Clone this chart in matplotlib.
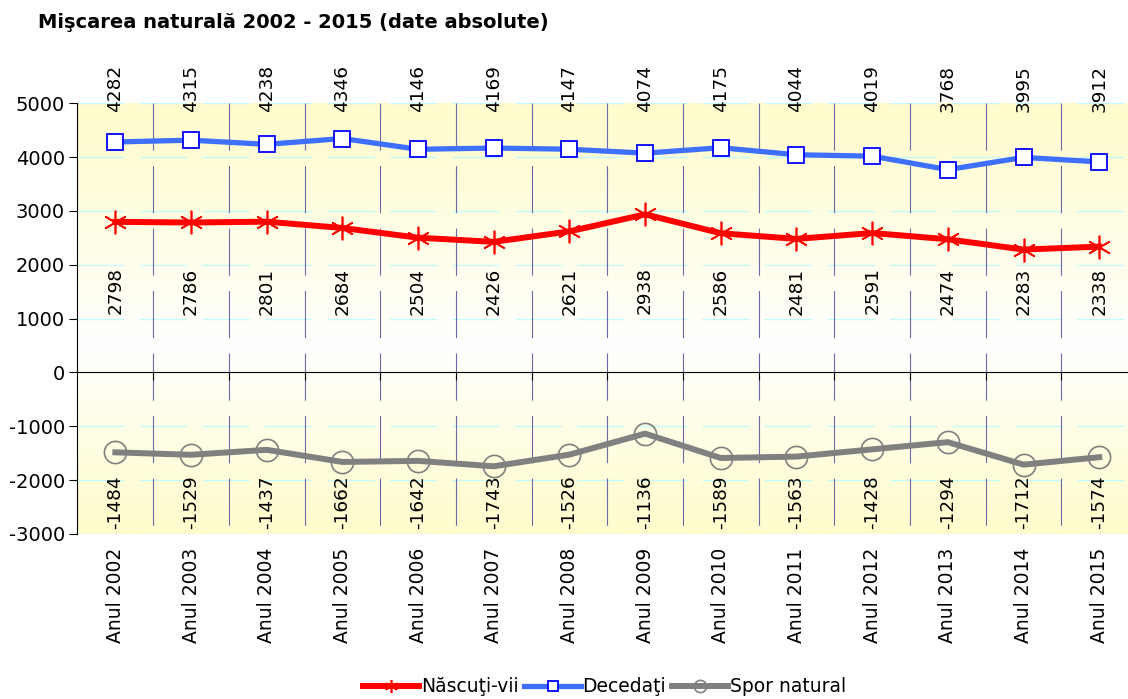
import matplotlib
matplotlib.use('Agg')
import matplotlib.pyplot as plt
import numpy as np

plt.rcParams['font.family'] = ['DejaVu Sans']
plt.rcParams['lines.scale_dashes'] = False
plt.rcParams['axes.unicode_minus'] = False  # cratima simpla ca in original

# date
ani = ['Anul 2002', 'Anul 2003', 'Anul 2004', 'Anul 2005', 'Anul 2006', 'Anul 2007', 'Anul 2008',
       'Anul 2009', 'Anul 2010', 'Anul 2011', 'Anul 2012', 'Anul 2013', 'Anul 2014', 'Anul 2015']
nascuti = [2798, 2786, 2801, 2684, 2504, 2426, 2621, 2938, 2586, 2481, 2591, 2474, 2283, 2338]
decedati = [4282, 4315, 4238, 4346, 4146, 4169, 4147, 4074, 4175, 4044, 4019, 3768, 3995, 3912]
spor = [-1484, -1529, -1437, -1662, -1642, -1743, -1526, -1136, -1589, -1563, -1428, -1294, -1712, -1574]
y_ticks = [-3000, -2000, -1000, 0, 1000, 2000, 3000, 4000, 5000]

x = np.arange(len(ani))

fig = plt.figure(figsize=(11.28, 6.99), dpi=100)
ax = fig.add_axes([0.0687, 0.2361, 0.9393, 0.6161])
ax.set_xlim(-0.5, len(ani) - 0.5)
ax.set_ylim(-3000, 5000)

# fundal: galben sus/jos, alb spre mijloc
yy = np.linspace(-3000, 5000, 400)
t = np.where(yy > 500, (yy - 500) / 4500, (500 - yy) / 3500)
t = np.clip(t, 0, 1) ** 0.9
galben = np.array([1.0, 0.988, 0.80])
alb = np.array([1.0, 1.0, 1.0])
grad = alb[None, :] * (1 - t[:, None]) + galben[None, :] * t[:, None]
ax.imshow(grad[:, None, :], extent=(-0.5, len(ani) - 0.5, -3000, 5000), origin='lower',
          aspect='auto', zorder=0, interpolation='bilinear')

# grila orizontala (cyan deschis, intrerupta)
for v in y_ticks:
    if v != 0:
        ax.axhline(v, color='#c4fafa', lw=1.0, dashes=(34, 11), zorder=1)
# linii verticale intre categorii
for b in np.arange(0.5, len(ani) - 1, 1):
    ax.axvline(b, ymin=1, ymax=0, color='#6a6aaa', lw=0.8, dashes=(34, 11), zorder=1)

# serii
ax.plot(x, nascuti, color='#ff0000', lw=4.3, marker=(6, 2, 0), markersize=17,
        markeredgecolor='#ff0000', markeredgewidth=1.2, label='Născuţi-vii', zorder=4)
ax.plot(x, decedati, color='#3f6fff', lw=3.8, marker='s', markersize=12,
        markerfacecolor='white', markeredgecolor='#0000ff', markeredgewidth=1.3,
        label='Decedaţi', zorder=4)
ax.plot(x, spor, color='#808080', lw=4.3, marker='o', markersize=16,
        markerfacecolor='none', markeredgecolor='#808080', markeredgewidth=1.2,
        label='Spor natural', zorder=4)

# etichete valori
for i in x:
    ax.text(i, 4830, str(decedati[i]), rotation=90, ha='center', va='bottom', fontsize=13.3,
            clip_on=False, zorder=5)
    ax.text(i, 1950, str(nascuti[i]), rotation=90, ha='center', va='top', fontsize=13.3, zorder=5)
    ax.text(i, -2910, str(spor[i]), rotation=90, ha='center', va='bottom', fontsize=13.3, zorder=5)

# axe
ax.spines['top'].set_visible(False)
ax.spines['right'].set_visible(False)
ax.spines['left'].set_color('black')
ax.spines['bottom'].set_position(('data', 0))
ax.spines['bottom'].set_color('black')
ax.spines['bottom'].set_zorder(3)
ax.set_yticks(y_ticks)
ax.tick_params(axis='y', direction='out', length=6, labelsize=14, pad=3)
ax.set_xticks(np.arange(0.5, len(ani) - 1, 1))
ax.set_xticklabels([])
ax.tick_params(axis='x', direction='out', length=6)

sec = ax.secondary_xaxis(0.0)
sec.set_xticks(x, ani, rotation=90, fontsize=13.5)
sec.tick_params(length=0, pad=10)
sec.spines['bottom'].set_visible(False)

fig.text(0.034, 0.968, 'Mişcarea naturală 2002 - 2015 (date absolute)', fontsize=14,
         fontweight='bold', va='center', ha='left')

fig.legend(loc='lower center', bbox_to_anchor=(0.536, -0.02), ncol=3, frameon=False,
           fontsize=13.5, handlelength=3.0, handletextpad=0.1, columnspacing=0.3,
           markerscale=0.55)

fig.savefig('out.png', dpi=100)
